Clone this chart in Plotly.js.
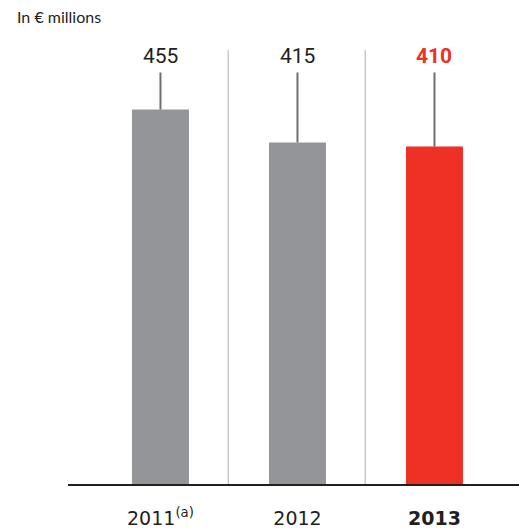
<!DOCTYPE html>
<html>
<head>
<meta charset="utf-8">
<script src="https://cdn.plot.ly/plotly-3.0.1.min.js"></script>
<style>html,body{margin:0;padding:0;background:#fff;}#chart{width:519px;height:532px;}</style>
</head>
<body>
<div id="chart"></div>
<script>
var categories = ["2011", "2012", "2013"];
var tickLabels = ["2011<sup>(a)</sup>", "2012", "<b>2013</b>"];
var values = [455, 415, 410];
var valueLabels = ["455", "415", "<b>410</b>"];
var barColors = ["#939598", "#939598", "#ee3124"];
var labelColors = ["#231f20", "#231f20", "#ee3124"];

var xIdx = categories.map(function (c, i) { return i; });
var labelY = 520;
var leaderTop = 500;
var sepTop = 527;

var shapes = [];
var annotations = [];
xIdx.forEach(function (i) {
  shapes.push({type: 'line', xref: 'x', yref: 'y', x0: i, x1: i, y0: values[i], y1: leaderTop,
    line: {color: '#6d6e71', width: 2}});
  annotations.push({xref: 'x', yref: 'y', x: i, y: labelY, text: valueLabels[i], showarrow: false,
    xanchor: 'center', yanchor: 'middle',
    font: {family: '"Liberation Sans Narrow", "Arial Narrow", Roboto, sans-serif', size: 21, color: labelColors[i]}});
  if (i < xIdx.length - 1) {
    shapes.push({type: 'line', xref: 'x', yref: 'y', x0: i + 0.495, x1: i + 0.495, y0: 0, y1: sepTop,
      line: {color: '#c7c8ca', width: 1.5}});
  }
});
annotations.push({xref: 'paper', yref: 'paper', x: -0.1175, y: 1.052, text: 'In € millions', showarrow: false,
  xanchor: 'left', yanchor: 'middle', font: {family: 'Lato, "DejaVu Sans", sans-serif', size: 16, color: '#231f20'}});

var trace = {
  type: 'bar', x: xIdx, y: values, width: 0.416,
  marker: {color: barColors, line: {width: 0}},
  hoverinfo: 'skip'
};

var layout = {
  width: 519, height: 532,
  margin: {l: 68, r: 0, t: 40, b: 48, pad: 0},
  paper_bgcolor: '#fff', plot_bgcolor: '#fff',
  showlegend: false,
  xaxis: {
    range: [-0.675, 2.617], tickvals: xIdx, ticktext: tickLabels,
    showline: true, linecolor: '#231f20', linewidth: 2, showgrid: false, zeroline: false,
    ticks: '', ticklabelstandoff: 16,
    tickfont: {family: '"DejaVu Sans", sans-serif', size: 19, color: '#231f20'}
  },
  yaxis: {range: [0, 539.5], visible: false, showgrid: false, zeroline: false},
  shapes: shapes,
  annotations: annotations
};

Plotly.newPlot('chart', [trace], layout, {displayModeBar: false, staticPlot: true});
</script>
</body>
</html>
